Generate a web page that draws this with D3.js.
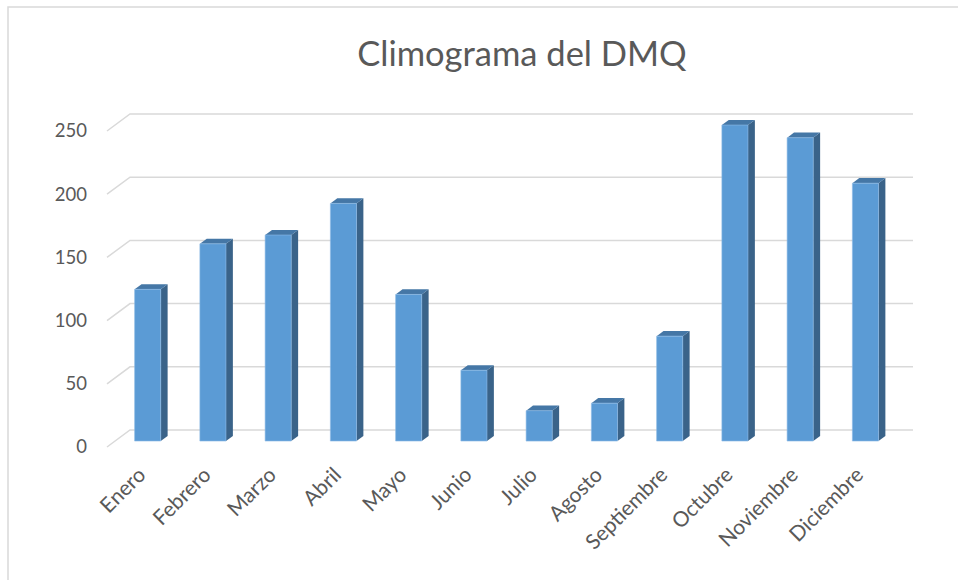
<!DOCTYPE html>
<html>
<head>
<meta charset="utf-8">
<script src="https://cdn.jsdelivr.net/npm/d3@7"></script>
<style>
  body { margin: 0; background: #fff; }
  text { font-family: Lato, "Open Sans", sans-serif; fill: #595959; }
</style>
</head>
<body>
<svg></svg>
<script>
var months = ["Enero","Febrero","Marzo","Abril","Mayo","Junio","Julio","Agosto","Septiembre","Octubre","Noviembre","Diciembre"]
var rain = [120, 156, 163, 188, 116, 56, 24, 30, 83, 250, 240, 204]
var yTicks = [0, 50, 100, 150, 200, 250]

var screen = {width: 958, height: 580}
var svg = d3.select("svg")
            .attr("width", screen.width)
            .attr("height", screen.height)

// chart frame
svg.append("rect")
   .attr("x", 8).attr("y", 7)
   .attr("width", 970).attr("height", 600)
   .attr("fill", "white")
   .attr("stroke", "#d9d9d9")
   .attr("stroke-width", 1.5)

svg.append("text")
   .attr("x", 522).attr("y", 66)
   .attr("text-anchor", "middle")
   .attr("font-size", 34.5)
   .text("Climograma del DMQ")

// oblique 3d: depth 0 = front, 1 = back wall
var depth = {dx: 23, dy: -17}
var xScale = d3.scaleBand()
               .domain(months)
               .range([107, 890])
               .paddingInner(0.6)
               .paddingOuter(0.3)
var yScale = d3.scaleLinear()
               .domain([0, 250])
               .range([447, 131])

var pt = function(x, v, d) {
  return [x + depth.dx * d, yScale(v) + depth.dy * d]
}

// gridlines: left wall diagonal + back wall horizontal
var grid = svg.append("g")
yTicks.forEach(function(t) {
  var a = pt(107, t, 0), b = pt(107, t, 1), c = pt(890, t, 1)
  grid.append("polyline")
      .attr("points", [a, b, c].map(function(p){ return p.join(",") }).join(" "))
      .attr("fill", "none")
      .attr("stroke", "#d9d9d9")
      .attr("stroke-width", 1.5)
})

svg.selectAll(".ytick")
   .data(yTicks)
   .enter()
   .append("text")
   .attr("class", "ytick")
   .attr("x", 87)
   .attr("y", function(d){ return yScale(d) })
   .attr("dy", "0.35em")
   .attr("text-anchor", "end")
   .attr("font-size", 18.5)
   .text(function(d){ return d })

// bars
var d0 = 0.35, d1 = 0.65
var poly = function(pts) { return pts.map(function(p){ return p.join(",") }).join(" ") }
var bars = svg.selectAll(".bar")
              .data(months)
              .enter()
              .append("g")
              .classed("bar", true)

bars.append("polygon")   // side
    .attr("points", function(m, i) {
      var x1 = xScale(m) + xScale.bandwidth()
      return poly([pt(x1, 0, d0), pt(x1, 0, d1), pt(x1, rain[i], d1), pt(x1, rain[i], d0)])
    })
    .attr("fill", "#3a6389")
bars.append("polygon")   // top
    .attr("points", function(m, i) {
      var x0 = xScale(m), x1 = x0 + xScale.bandwidth()
      return poly([pt(x0, rain[i], d0), pt(x1, rain[i], d0), pt(x1, rain[i], d1), pt(x0, rain[i], d1)])
    })
    .attr("fill", "#4577a6")
bars.append("polygon")   // front
    .attr("points", function(m, i) {
      var x0 = xScale(m), x1 = x0 + xScale.bandwidth()
      return poly([pt(x0, 0, d0), pt(x1, 0, d0), pt(x1, rain[i], d0), pt(x0, rain[i], d0)])
    })
    .attr("fill", "#5b9bd5")
    .attr("stroke", "#8dbbe6")
    .attr("stroke-width", 0.6)

svg.selectAll(".xlab")
   .data(months)
   .enter()
   .append("text")
   .attr("class", "xlab")
   .attr("transform", function(m) {
     var x = xScale(m) + xScale.bandwidth() / 2 + depth.dx * d0
     return "translate(" + (x - 6) + ",471) rotate(-45)"
   })
   .attr("dy", "0.35em")
   .attr("text-anchor", "end")
   .attr("font-size", 21)
   .text(function(m){ return m })
</script>
</body>
</html>
